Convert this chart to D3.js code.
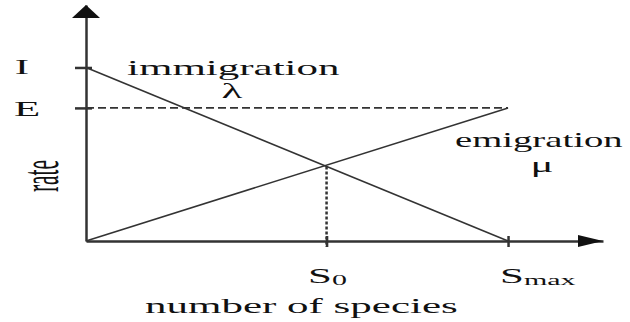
<!DOCTYPE html>
<html>
<head>
<meta charset="utf-8">
<script src="https://cdn.jsdelivr.net/npm/d3@7"></script>
<style>
  body { margin: 0; background: #fff; }
  text { font-family: "Liberation Serif", "DejaVu Serif", serif; fill: #111; }
</style>
</head>
<body>
<div id="chart"></div>
<script>
var svgWidth = 630;
var svgHeight = 322;

// species counts (Smax = 100) and rates (I = 1)
var speciesTicks = [57, 100];           // S0, Smax
var rateTicks = [1, 0.767];             // I, E
var immigration = [[0, 1], [100, 0]];
var emigration = [[0, 0], [100, 0.767]];
var xMax = 122.5;
var yMax = 1.36;

var svg = d3.select("#chart")
  .append("svg")
  .attr("width", svgWidth)
  .attr("height", svgHeight);

var x = d3.scaleLinear().domain([0, xMax]).range([86, 603]);
var y = d3.scaleLinear().domain([0, yMax]).range([241, 5]);

var ink = "#333";

// axes
var leftAxis = d3.axisLeft(y).tickValues(rateTicks).tickSizeInner(10).tickSizeOuter(0).tickFormat("");
var bottomAxis = d3.axisBottom(x).tickValues(speciesTicks).tickSizeInner(6).tickSizeOuter(0).tickFormat("");

var gy = svg.append("g")
  .attr("transform", `translate(${x(0)},0)`)
  .call(leftAxis);
gy.selectAll(".tick line").attr("x1", 6).attr("x2", -11);

var gx = svg.append("g")
  .attr("transform", `translate(0,${y(0)})`)
  .call(bottomAxis);
gx.selectAll(".tick line").attr("y1", -5).attr("y2", 6);

svg.selectAll(".domain, .tick line")
  .attr("stroke", ink)
  .attr("stroke-width", 2.5);

// arrow heads
svg.append("path")
  .attr("d", `M${x(0)},${y(yMax)} L${x(0) - 14},${y(yMax) + 13} L${x(0) + 14},${y(yMax) + 13} Z`)
  .attr("fill", "#111");
svg.append("path")
  .attr("d", `M${x(xMax)},${y(0)} L${x(xMax) - 25},${y(0) - 6} L${x(xMax) - 25},${y(0) + 6} Z`)
  .attr("fill", "#111");

// E dashed level
svg.append("line")
  .attr("x1", x(0)).attr("x2", x(speciesTicks[1]))
  .attr("y1", y(rateTicks[1])).attr("y2", y(rateTicks[1]))
  .attr("stroke", ink)
  .attr("stroke-width", 1.8)
  .attr("stroke-dasharray", "8,4");

var line = d3.line().x(d => x(d[0])).y(d => y(d[1]));

svg.append("path")
  .attr("d", line(immigration))
  .attr("fill", "none")
  .attr("stroke", ink)
  .attr("stroke-width", 1.6);

svg.append("path")
  .attr("d", line(emigration))
  .attr("fill", "none")
  .attr("stroke", ink)
  .attr("stroke-width", 1.6);

// S0 dotted drop line
var s0 = speciesTicks[0];
var s0Rate = immigration[0][1] * (1 - s0 / immigration[1][0]);
svg.append("line")
  .attr("x1", x(s0)).attr("x2", x(s0))
  .attr("y1", y(s0Rate)).attr("y2", y(0) + 6)
  .attr("stroke", ink)
  .attr("stroke-width", 2.5)
  .attr("stroke-dasharray", "3,2");

// labels (picture is stretched 2x horizontally)
function label(tx, ty, str, anchor, rot, sx) {
  return svg.append("text")
    .attr("transform", `translate(${tx},${ty}) scale(${sx || 2},1)` + (rot ? ` rotate(${rot})` : ""))
    .attr("text-anchor", anchor || "start")
    .attr("font-size", "21.5px")
    .text(str);
}

label(22, y(rateTicks[0]) + 7, "I", "middle");
label(27, y(rateTicks[1]) + 8, "E", "middle");
label(58, 176, "rate", "middle", -90, 2.5);

label(127, 75, "immigration");
label(232, 98, "\u03bb", "middle");
label(455, 147, "emigration", "start", 0, 1.8);
label(542, 172, "\u03bc", "middle");

var t0 = label(308, 283, "S");
t0.append("tspan").attr("font-size", "15px").attr("dy", 2).text("0");
var t1 = label(500, 283, "S");
t1.append("tspan").attr("font-size", "15px").attr("dy", 2).text("max");

label(145, 313, "number of species");
</script>
</body>
</html>
